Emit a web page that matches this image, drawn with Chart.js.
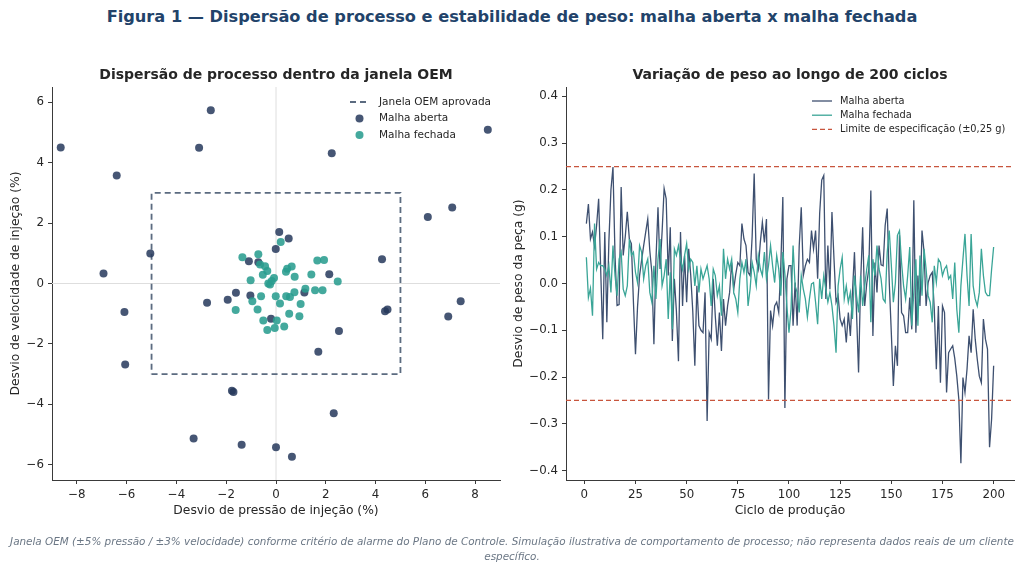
<!DOCTYPE html>
<html lang="pt">
<head>
<meta charset="utf-8">
<script src="https://cdn.jsdelivr.net/npm/chart.js@4.4.1/dist/chart.umd.min.js"></script>
<style>
  html, body { margin: 0; padding: 0; background: #fff; }
  body { width: 1024px; height: 571px; position: relative; overflow: hidden; font-family: "DejaVu Sans", sans-serif; }
  #titulo { position: absolute; top: 7px; left: 0; width: 1024px; text-align: center; font-weight: bold; font-size: 16.2px; color: #22436a; }
  #rodape { position: absolute; top: 534px; left: 0; width: 1024px; text-align: center; font-style: italic; font-size: 10.4px; line-height: 15px; color: #6b7785; }
  #graficoDispersao { position: absolute; left: 0; top: 0; }
  #graficoPeso { position: absolute; left: 505px; top: 0; }
</style>
</head>
<body>
<div id="titulo">Figura 1 — Dispersão de processo e estabilidade de peso: malha aberta x malha fechada</div>
<canvas id="graficoDispersao" width="512" height="571"></canvas>
<canvas id="graficoPeso" width="519" height="571"></canvas>
<div id="rodape">Janela OEM (±5% pressão / ±3% velocidade) conforme critério de alarme do Plano de Controle. Simulação ilustrativa de comportamento de processo; não representa dados reais de um cliente<br>específico.</div>

<script>
// Painel esquerdo: desvios de pressão (x) e velocidade (y), em %
const abertaPressao = [-8.65, -2.62, -3.09, -6.40, 2.24, 8.51, 6.10, 7.08, -5.05, -6.93,
  0.13, 0.51, -0.01, -1.09, -0.71, 4.26, 2.14, -1.61, -1.03, -2.77,
  -1.94, 1.14, -6.09, 4.38, 4.48, 7.42, 6.92, -0.20, 2.53, 1.70,
  -6.06, -1.77, -1.71, 2.32, -3.31, -1.38, 0.00, 0.64];
const abertaVelocidade = [4.50, 5.73, 4.49, 3.57, 4.31, 5.09, 2.20, 2.51, 0.99, 0.33,
  1.70, 1.49, 1.14, 0.74, 0.70, 0.80, 0.31, -0.31, -0.40, -0.64,
  -0.54, -0.30, -0.94, -0.92, -0.86, -0.59, -1.09, -1.17, -1.57, -2.26,
  -2.68, -3.55, -3.59, -4.29, -5.13, -5.33, -5.42, -5.73];

const fechadaPressao = [0.19, -1.35, -0.71, -0.64, -0.44, -0.53, -0.35, 1.66, 1.93, 0.63,
  0.45, 0.40, 1.42, 0.75, -0.08, -1.02, 2.48, -0.17, -0.31, -0.24,
  1.18, 1.57, 1.87, 0.74, 0.56, 0.41, -0.01, -0.60, -0.95, 0.16,
  0.99, -1.62, -0.74, 0.53, 0.94, -0.51, 0.03, 0.33, -0.05, -0.35];
const fechadaVelocidade = [1.37, 0.87, 0.97, 0.63, 0.57, 0.29, 0.41, 0.76, 0.78, 0.56,
  0.49, 0.39, 0.30, 0.22, 0.18, 0.11, 0.07, 0.08, 0.00, -0.03,
  -0.17, -0.22, -0.22, -0.29, -0.45, -0.42, -0.42, -0.42, -0.59, -0.66,
  -0.68, -0.88, -0.86, -1.00, -1.08, -1.22, -1.22, -1.42, -1.47, -1.54];

// Janela OEM: ±5% pressão, ±3% velocidade
const janelaPressao = 5;
const janelaVelocidade = 3;

const ticksPressao = [-8, -6, -4, -2, 0, 2, 4, 6, 8];
const ticksVelocidade = [-6, -4, -2, 0, 2, 4, 6];

// Painel direito: desvio de peso (g) por ciclo, 200 ciclos
const pesoAberta = [
  0.128, 0.170, 0.095, 0.110, 0.080, 0.124, 0.181, 0.030, -0.119, 0.110,
  -0.083, 0.090, 0.200, 0.249, 0.060, -0.047, -0.045, 0.206, 0.060, 0.100,
  0.153, 0.095, 0.085, -0.040, -0.151, -0.050, 0.017, 0.050, 0.081, 0.110,
  0.138, 0.070, 0.024, -0.130, 0.050, 0.163, 0.031, 0.110, 0.203, 0.181,
  0.017, 0.120, -0.123, 0.010, -0.060, -0.166, 0.110, -0.048, 0.060, -0.040,
  0.074, 0.017, -0.060, -0.176, -0.005, -0.090, -0.100, -0.105, -0.019, -0.294,
  -0.105, -0.119, 0.010, -0.070, -0.133, -0.062, -0.144, -0.033, -0.090, -0.048,
  -0.019, 0.045, -0.012, 0.020, 0.045, 0.038, 0.128, 0.095, 0.081, 0.024,
  0.017, 0.100, 0.235, 0.052, 0.031, 0.088, 0.131, 0.088, 0.138, -0.248,
  -0.058, -0.090, -0.048, -0.040, -0.062, 0.038, 0.185, -0.266, 0.010, 0.038,
  0.038, -0.090, 0.002, -0.090, 0.080, 0.163, 0.017, 0.038, 0.052, 0.045,
  0.113, 0.074, 0.113, 0.010, 0.150, 0.221, 0.231, -0.033, 0.081, -0.012,
  0.153, 0.052, -0.040, -0.026, -0.076, -0.090, -0.076, -0.126, -0.062, -0.112,
  -0.020, 0.067, -0.062, -0.190, 0.002, 0.120, -0.048, 0.000, 0.031, 0.199,
  -0.112, 0.045, -0.019, 0.081, 0.040, 0.038, 0.124, 0.160, 0.002, -0.105,
  -0.219, -0.133, -0.176, 0.103, -0.062, -0.069, -0.105, -0.105, -0.030, -0.098,
  0.178, -0.105, 0.017, -0.048, 0.113, 0.067, -0.048, 0.002, 0.017, 0.024,
  -0.055, -0.183, -0.048, -0.212, -0.048, -0.062, -0.233, -0.148, -0.140, -0.133,
  -0.160, -0.198, -0.248, -0.384, -0.201, -0.233, -0.183, -0.112, -0.148, -0.055,
  -0.119, -0.162, -0.198, -0.212, -0.076, -0.119, -0.140, -0.350, -0.290, -0.176
];
const pesoFechada = [
  0.056, -0.030, -0.010, -0.069, 0.128, 0.031, 0.045, 0.038, 0.038, 0.031,
  0.017, 0.038, -0.019, 0.081, 0.017, -0.026, 0.052, 0.067, -0.012, -0.026,
  -0.005, 0.095, 0.060, 0.067, 0.024, 0.002, 0.081, 0.067, 0.010, 0.038,
  0.052, -0.019, -0.040, 0.038, -0.033, 0.052, 0.095, -0.005, 0.017, 0.052,
  -0.076, 0.024, -0.098, 0.074, 0.060, 0.081, 0.052, 0.030, 0.060, 0.085,
  0.031, 0.052, 0.045, -0.005, 0.038, -0.019, 0.031, 0.010, 0.024, 0.038,
  0.010, -0.048, 0.031, 0.017, -0.026, -0.005, -0.069, 0.074, 0.010, 0.052,
  0.031, 0.052, -0.019, -0.033, -0.062, 0.010, 0.045, 0.024, 0.052, -0.048,
  -0.012, 0.045, 0.024, -0.005, 0.060, 0.031, 0.017, 0.067, 0.010, 0.038,
  0.081, 0.038, 0.002, 0.060, 0.031, -0.026, 0.067, 0.020, -0.050, -0.105,
  -0.055, 0.081, -0.005, -0.019, -0.062, 0.017, -0.012, -0.033, -0.072, -0.033,
  -0.001, 0.002, -0.040, -0.087, 0.010, -0.033, 0.017, -0.012, -0.040, -0.019,
  -0.048, -0.090, -0.148, -0.005, 0.031, 0.056, -0.033, -0.005, -0.040, -0.019,
  -0.076, 0.017, -0.026, -0.062, 0.017, -0.048, -0.005, 0.031, 0.060, -0.083,
  0.052, 0.017, 0.081, 0.031, 0.010, -0.033, -0.040, 0.067, 0.113, 0.040,
  -0.040, 0.002, 0.103, 0.113, 0.045, -0.005, -0.033, 0.017, 0.078, -0.090,
  -0.019, 0.052, -0.090, 0.060, -0.026, 0.074, 0.031, -0.026, -0.040, -0.083,
  0.038, 0.002, 0.052, 0.045, 0.017, 0.031, 0.038, 0.010, 0.017, -0.033,
  0.045, -0.055, -0.105, -0.005, 0.052, 0.106, 0.017, -0.048, 0.106, -0.005,
  -0.033, -0.048, -0.019, 0.074, 0.017, -0.019, -0.026, -0.026, 0.030, 0.078
];
const ciclos = pesoAberta.map((_, i) => i + 1);

const limiteEspec = 0.25; // ±0,25 g
const ticksCiclo = [0, 25, 50, 75, 100, 125, 150, 175, 200];
const ticksPeso = [-0.4, -0.3, -0.2, -0.1, 0, 0.1, 0.2, 0.3, 0.4];

// Cores
const corAberta = "rgba(38, 56, 92, 0.85)";
const corFechada = "rgba(42, 157, 143, 0.88)";
const corJanela = "#5b6b80";
const corLimite = "#c8553d";
const corTexto = "#262626";
const fonte = '"DejaVu Sans", sans-serif';

Chart.defaults.font.family = fonte;
Chart.defaults.color = corTexto;

const menos = (s) => String(s).replace("-", "\u2212");

// Linhas de referência em zero (só no painel de dispersão)
const linhasZero = {
  id: "linhasZero",
  beforeDatasetsDraw(chart, args, opts) {
    const { ctx, chartArea, scales } = chart;
    const x0 = scales.x.getPixelForValue(0);
    const y0 = scales.y.getPixelForValue(0);
    ctx.save();
    ctx.strokeStyle = opts.cor;
    ctx.lineWidth = 1;
    ctx.beginPath();
    ctx.moveTo(x0, chartArea.top);
    ctx.lineTo(x0, chartArea.bottom);
    ctx.moveTo(chartArea.left, y0);
    ctx.lineTo(chartArea.right, y0);
    ctx.stroke();
    ctx.restore();
  },
};

// Legenda desenhada dentro da área do gráfico, canto superior direito
const legendaInterna = {
  id: "legendaInterna",
  afterDraw(chart, args, opts) {
    const { ctx, chartArea } = chart;
    const itens = chart.data.datasets
      .filter((d) => d.legendaPos !== undefined)
      .sort((a, b) => a.legendaPos - b.legendaPos);
    ctx.save();
    ctx.font = `${opts.tamanho}px ${fonte}`;
    ctx.textBaseline = "middle";
    itens.forEach((d, i) => {
      const y = chartArea.top + opts.topo + i * opts.espaco;
      const x0 = chartArea.right - opts.direita;
      if (d.showLine) {
        ctx.strokeStyle = d.borderColor;
        ctx.lineWidth = d.borderWidth;
        ctx.setLineDash(d.borderDash || []);
        ctx.beginPath();
        ctx.moveTo(x0, y);
        ctx.lineTo(x0 + opts.amostra, y);
        ctx.stroke();
        ctx.setLineDash([]);
      } else {
        ctx.fillStyle = d.backgroundColor;
        ctx.beginPath();
        ctx.arc(x0 + opts.amostra / 2, y, d.pointRadius, 0, Math.PI * 2);
        ctx.fill();
      }
      ctx.fillStyle = corTexto;
      ctx.fillText(d.label, x0 + opts.amostra + opts.folga, y);
    });
    ctx.restore();
  },
};

function eixo({ min, max, ticks, formato, titulo, largura, altura, padTitulo }) {
  const cfg = {
    type: "linear",
    min,
    max,
    border: { display: true, color: "#3a3a3a", width: 1 },
    grid: { display: true, drawOnChartArea: false, drawTicks: true, tickLength: 4, tickColor: "#3a3a3a" },
    ticks: { font: { size: 11.8 }, color: corTexto, padding: 4, callback: formato, autoSkip: false, maxRotation: 0 },
    title: { display: true, text: titulo, font: { size: 12.3 }, color: corTexto, padding: padTitulo },
    afterBuildTicks: (s) => { s.ticks = ticks.map((v) => ({ value: v })); },
  };
  if (largura) cfg.afterFit = (s) => { s.width = largura; };
  if (altura) cfg.afterFit = (s) => { s.height = altura; };
  return cfg;
}

function tituloPainel(texto) {
  return {
    display: true,
    text: texto,
    fullSize: false,
    font: { size: 14, weight: "bold" },
    color: corTexto,
    padding: { top: 67.2, bottom: 3 },
  };
}

// ----- Painel esquerdo -----
const pontosAberta = abertaPressao.map((x, i) => ({ x, y: abertaVelocidade[i] }));
const pontosFechada = fechadaPressao.map((x, i) => ({ x, y: fechadaVelocidade[i] }));
const contornoJanela = [
  { x: -janelaPressao, y: -janelaVelocidade },
  { x: janelaPressao, y: -janelaVelocidade },
  { x: janelaPressao, y: janelaVelocidade },
  { x: -janelaPressao, y: janelaVelocidade },
  { x: -janelaPressao, y: -janelaVelocidade },
];

new Chart(document.getElementById("graficoDispersao"), {
  type: "scatter",
  data: {
    datasets: [
      {
        label: "Janela OEM aprovada",
        data: contornoJanela,
        showLine: true,
        borderColor: corJanela,
        borderWidth: 1.8,
        borderDash: [6, 4],
        pointRadius: 0,
        fill: false,
        order: 3,
        legendaPos: 0,
      },
      {
        label: "Malha aberta",
        data: pontosAberta,
        backgroundColor: corAberta,
        borderWidth: 0,
        pointRadius: 4,
        order: 2,
        legendaPos: 1,
      },
      {
        label: "Malha fechada",
        data: pontosFechada,
        backgroundColor: corFechada,
        borderWidth: 0,
        pointRadius: 4,
        order: 1,
        legendaPos: 2,
      },
    ],
  },
  options: {
    responsive: false,
    animation: false,
    layout: { padding: { top: 0, left: 0, right: 12, bottom: 51 } },
    plugins: {
      legend: { display: false },
      tooltip: { enabled: false },
      title: tituloPainel("Dispersão de processo dentro da janela OEM"),
      linhasZero: { cor: "#dedede" },
      legendaInterna: { tamanho: 10.5, topo: 15, espaco: 16.5, direita: 150, amostra: 19, folga: 10 },
    },
    scales: {
      x: eixo({ min: -9, max: 9, ticks: ticksPressao, formato: (v) => menos(v),
        titulo: "Desvio de pressão de injeção (%)", altura: 40, padTitulo: { top: 0, bottom: 1.6 } }),
      y: eixo({ min: -6.5, max: 6.5, ticks: ticksVelocidade, formato: (v) => menos(v),
        titulo: "Desvio de velocidade de injeção (%)", largura: 52, padTitulo: { top: 8.6, bottom: 0 } }),
    },
  },
  plugins: [linhasZero, legendaInterna],
});

// ----- Painel direito -----
const cicloMin = -8.95;
const cicloMax = 209.95;

new Chart(document.getElementById("graficoPeso"), {
  type: "scatter",
  data: {
    datasets: [
      {
        label: "Malha aberta",
        data: ciclos.map((c, i) => ({ x: c, y: pesoAberta[i] })),
        showLine: true,
        borderColor: "#3e5070",
        borderWidth: 1.3,
        pointRadius: 0,
        order: 3,
        legendaPos: 0,
      },
      {
        label: "Malha fechada",
        data: ciclos.map((c, i) => ({ x: c, y: pesoFechada[i] })),
        showLine: true,
        borderColor: "#3aa597",
        borderWidth: 1.3,
        pointRadius: 0,
        order: 2,
        legendaPos: 1,
      },
      {
        label: "Limite de especificação (±0,25 g)",
        data: [{ x: cicloMin, y: limiteEspec }, { x: cicloMax, y: limiteEspec }],
        showLine: true,
        borderColor: corLimite,
        borderWidth: 1.3,
        borderDash: [5, 3],
        pointRadius: 0,
        order: 1,
        legendaPos: 2,
      },
      {
        label: "",
        data: [{ x: cicloMin, y: -limiteEspec }, { x: cicloMax, y: -limiteEspec }],
        showLine: true,
        borderColor: corLimite,
        borderWidth: 1.3,
        borderDash: [5, 3],
        pointRadius: 0,
        order: 1,
      },
    ],
  },
  options: {
    responsive: false,
    animation: false,
    layout: { padding: { top: 0, left: 0, right: 10, bottom: 51 } },
    plugins: {
      legend: { display: false },
      tooltip: { enabled: false },
      title: tituloPainel("Variação de peso ao longo de 200 ciclos"),
      legendaInterna: { tamanho: 9.8, topo: 14, espaco: 14.2, direita: 202, amostra: 20, folga: 8 },
    },
    scales: {
      x: eixo({ min: cicloMin, max: cicloMax, ticks: ticksCiclo, formato: (v) => String(v),
        titulo: "Ciclo de produção", altura: 40, padTitulo: { top: 0, bottom: 1.6 } }),
      y: eixo({ min: -0.42, max: 0.42, ticks: ticksPeso, formato: (v) => menos(Number(v).toFixed(1)),
        titulo: "Desvio de peso da peça (g)", largura: 61, padTitulo: { top: 6.6, bottom: 0 } }),
    },
  },
  plugins: [legendaInterna],
});
</script>
</body>
</html>
